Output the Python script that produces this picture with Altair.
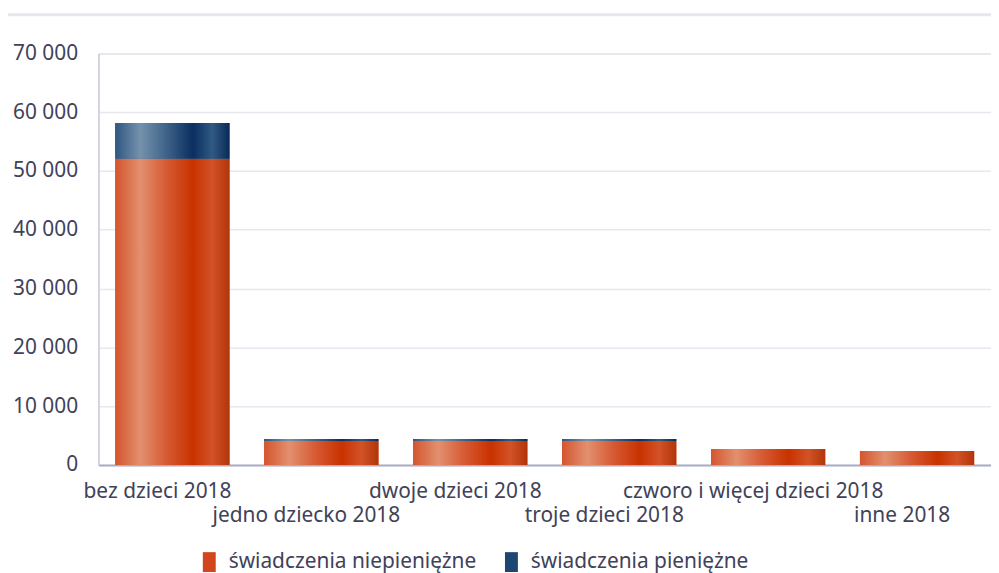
import altair as alt
import pandas as pd

categories = [
    "bez dzieci 2018",
    "jedno dziecko 2018",
    "dwoje dzieci 2018",
    "troje dzieci 2018",
    "czworo i więcej dzieci 2018",
    "inne 2018",
]
niepieniezne = [52100, 4080, 4080, 4080, 2700, 2370]
pieniezne = [6070, 320, 320, 320, 0, 0]
series = ["świadczenia niepieniężne", "świadczenia pieniężne"]
y_ticks = [0, 10000, 20000, 30000, 40000, 50000, 60000, 70000]

wide = pd.DataFrame({"kategoria": categories, "niep": niepieniezne, "pien": pieniezne})
wide["total"] = wide["niep"] + wide["pien"]
long = pd.DataFrame({
    "kategoria": categories * 2,
    "seria": [series[0]] * len(categories) + [series[1]] * len(categories),
    "wartosc": niepieniezne + pieniezne,
})

FONT = "Noto Sans"
TXT = "#3F4259"
FS = 21

grad_orange = {
    "gradient": "linear", "x1": 0, "x2": 1, "y1": 0, "y2": 0,
    "stops": [
        {"offset": 0.0, "color": "#D4552E"},
        {"offset": 0.22, "color": "#E2906F"},
        {"offset": 0.45, "color": "#D65A33"},
        {"offset": 0.68, "color": "#C83200"},
        {"offset": 0.85, "color": "#D35227"},
        {"offset": 1.0, "color": "#B2350A"},
    ],
}
grad_blue = {
    "gradient": "linear", "x1": 0, "x2": 1, "y1": 0, "y2": 0,
    "stops": [
        {"offset": 0.0, "color": "#2F5783"},
        {"offset": 0.22, "color": "#7592AC"},
        {"offset": 0.45, "color": "#3E6288"},
        {"offset": 0.68, "color": "#0A2F61"},
        {"offset": 0.85, "color": "#2F5A82"},
        {"offset": 1.0, "color": "#0A2A58"},
    ],
}

cats_js = "[" + ",".join("'" + c + "'" for c in categories) + "]"

x_enc = alt.X(
    "kategoria:N",
    sort=categories,
    scale=alt.Scale(domain=categories, paddingInner=0.233, paddingOuter=0.113),
    axis=alt.Axis(
        title=None,
        labelAngle=0,
        ticks=False,
        grid=False,
        domainColor="#A9AEC6",
        domainWidth=2,
        labelFont=FONT,
        labelFontSize=FS,
        labelColor=TXT,
        labelPadding=16,
        labelOffset=-15,
        labelBaseline="top",
        labelLineHeight=24,
        labelLimit=0,
        labelOverlap=False,
        labelExpr=f"indexof({cats_js}, datum.value) % 2 == 1 ? ['', datum.value] : datum.value",
    ),
)

y_scale = alt.Scale(domain=[0, 70000], nice=False)
y_axis = alt.Axis(
    title=None,
    values=y_ticks,
    ticks=False,
    domainColor="#C9CDDB",
    domainWidth=1.5,
    gridColor="#E6E7EF",
    gridWidth=1.5,
    labelFont=FONT,
    labelFontSize=FS,
    labelColor=TXT,
    labelPadding=21,
    labelLimit=0,
    labelExpr="replace(format(datum.value, ',d'), ',', ' ')",
)

legend_layer = alt.Chart(long).mark_bar().encode(
    x=x_enc,
    y=alt.Y("sum(wartosc):Q", scale=y_scale, axis=y_axis),
    color=alt.Color(
        "seria:N",
        sort=series,
        scale=alt.Scale(domain=series, range=["#D2461E", "#1D4673"]),
        legend=alt.Legend(
            title=None,
            orient="none",
            legendX=101,
            legendY=501,
            direction="horizontal",
            symbolType="M-0.65,-1H0.65V1H-0.65Z",
            symbolSize=400,
            symbolStrokeWidth=0,
            symbolOpacity=1,
            labelFont=FONT,
            labelFontSize=FS,
            labelColor=TXT,
            labelLimit=0,
            labelOffset=9,
            columnPadding=24,
        ),
    ),
    order=alt.Order("seria:N"),
)

orange_layer = alt.Chart(wide).mark_bar(fill=grad_orange).encode(
    x=x_enc,
    y=alt.Y("niep:Q", scale=y_scale, axis=y_axis),
)

blue_layer = alt.Chart(wide).mark_bar(fill=grad_blue).encode(
    x=x_enc,
    y=alt.Y("niep:Q", scale=y_scale, axis=y_axis),
    y2="total:Q",
)

top_rule = alt.Chart(pd.DataFrame({"a": [0]})).mark_rule(color="#E6E6EE", strokeWidth=3).encode(
    x=alt.value(-91), x2=alt.value(900), y=alt.value(-39)
)

chart = alt.layer(legend_layer, orange_layer, blue_layer, top_rule).properties(
    width=898,
    height=414,
    padding={"left": 91, "top": 44, "right": 0, "bottom": 107},
    autosize="none",
).configure_view(stroke=None).configure(font=FONT)

chart.save("out.html", embed_options={"renderer": "svg", "actions": False})
